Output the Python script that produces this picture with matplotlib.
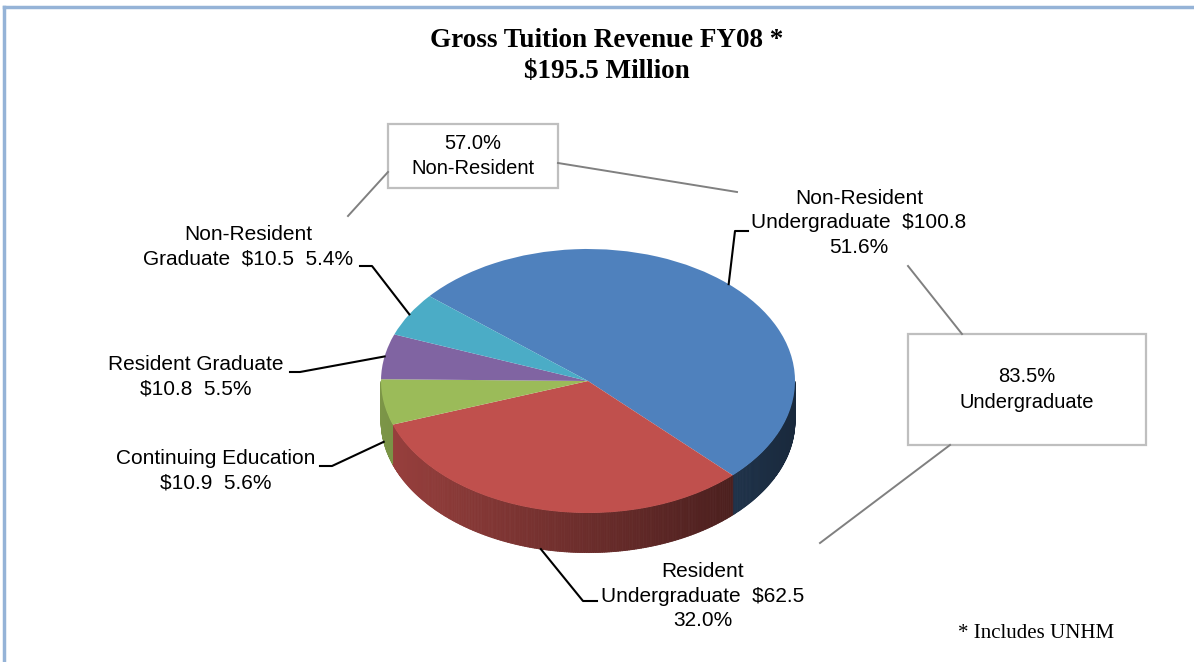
import matplotlib.colors as mcolors
import matplotlib.pyplot as plt
import numpy as np
from matplotlib.collections import PolyCollection
from matplotlib.lines import Line2D
from matplotlib.patches import Rectangle

# FY08 gross tuition revenue, $ millions
categories = [
    "Non-Resident Undergraduate",
    "Resident Undergraduate",
    "Continuing Education",
    "Resident Graduate",
    "Non-Resident Graduate",
]
amounts = [100.8, 62.5, 10.9, 10.8, 10.5]
shares = [51.6, 32.0, 5.6, 5.5, 5.4]
total = 195.5

# summary call-outs
group_names = ["Non-Resident", "Undergraduate"]
group_shares = [57.0, 83.5]

colors = ["#4F81BD", "#C0504D", "#9BBB59", "#8064A2", "#4BACC6"]

# how each slice label is laid out
label_fmt = [
    "Non-Resident\nUndergraduate  ${amt}\n{pct}%",
    "Resident\nUndergraduate  ${amt}\n{pct}%",
    "Continuing Education\n${amt}  {pct}%",
    "Resident Graduate\n${amt}  {pct}%",
    "Non-Resident\nGraduate  ${amt}  {pct}%",
]

W, H = 1194, 662
CX, CY = 588, 381  # pie centre, pixels from top-left
RX, RY = 207, 132  # radii of the top face in pixels
DEPTH = 0.30  # height of the pie side (data units)

# label placement in pixels: (elbow, line end, text centre)
label_pos = [
    ((735, 231), (748, 231), (859, 223)),
    ((583, 601), (597, 601), (703, 596)),
    ((332, 466), (320, 466), (216, 471)),
    ((300, 372), (290, 372), (196, 377)),
    ((372, 266), (360, 266), (248, 247)),
]

SANS = "Liberation Sans"
SERIF = "Liberation Serif"


def px(x, y):
    """pixel position (from top-left) -> data coords of the pie axes"""
    return (x - CX) / RX, (CY - y) / RY


fig = plt.figure(figsize=(W / 100, H / 100), dpi=100)
ax = fig.add_axes([0, 0, 1, 1])

wedges, _ = ax.pie(
    amounts,
    colors=colors,
    startangle=140,
    counterclock=False,
    wedgeprops=dict(linewidth=0, zorder=3),
)

ax.set_xlim(px(0, 0)[0], px(W, 0)[0])
ax.set_ylim(px(0, H)[1], px(0, 0)[1])
ax.set_aspect("auto")
ax.axis("off")

# shaded side of the pie (front half only)
polys, fcols = [], []
for w, c in zip(wedges, colors):
    base = np.array(mcolors.to_rgb(c))
    n = int(abs(w.theta2 - w.theta1) / 0.5) + 2
    t = np.radians(np.linspace(w.theta1, w.theta2, n))
    for t0, t1 in zip(t[:-1], t[1:]):
        tm = 0.5 * (t0 + t1)
        if np.sin(tm) >= 0:
            continue
        x0, y0, x1, y1 = np.cos(t0), np.sin(t0), np.cos(t1), np.sin(t1)
        polys.append([(x0, y0), (x1, y1), (x1, y1 - DEPTH), (x0, y0 - DEPTH)])
        fcols.append(np.clip(base * (0.56 - 0.24 * np.cos(tm)), 0, 1))
ax.add_collection(
    PolyCollection(polys, facecolors=fcols, edgecolors=fcols, linewidths=0.6, zorder=2)
)

# slice labels with leader lines
for w, fmt, amt, pct, (elbow, end, tpos) in zip(
    wedges, label_fmt, amounts, shares, label_pos
):
    mid = np.radians(0.5 * (w.theta1 + w.theta2))
    sx, sy = np.cos(mid), np.sin(mid)
    if sy < 0:
        sy -= DEPTH
    ex, ey = px(*elbow)
    lx, ly = px(*end)
    ax.plot([sx, ex, lx], [sy, ey, ly], color="black", lw=1.5, zorder=5)
    tx, ty = px(*tpos)
    ax.text(
        tx, ty, fmt.format(amt=f"{amt:.1f}", pct=f"{pct:.1f}"),
        ha="center", va="center", multialignment="center",
        fontsize=15, family=SANS, linespacing=1.35, zorder=6,
    )

# group call-out boxes
boxes = [
    ((388, 124, 558, 188), [((388, 172), (348, 216)), ((558, 163), (737, 192))]),
    ((908, 334, 1146, 445), [((908, 266), (962, 334)), ((950, 445), (820, 543))]),
]
for name, val, ((x0, y0, x1, y1), lines) in zip(group_names, group_shares, boxes):
    bx0, by1 = px(x0, y0)
    bx1, by0 = px(x1, y1)
    ax.add_patch(
        Rectangle((bx0, by0), bx1 - bx0, by1 - by0, facecolor="white",
                  edgecolor="#BFBFBF", lw=1.6, zorder=4)
    )
    ax.text(
        (bx0 + bx1) / 2, (by0 + by1) / 2, f"{val:.1f}%\n{name}",
        ha="center", va="center", multialignment="center",
        fontsize=14.5, family=SANS, linespacing=1.45, zorder=6,
    )
    for p, q in lines:
        (ax_, ay_), (bx_, by_) = px(*p), px(*q)
        ax.plot([ax_, bx_], [ay_, by_], color="#808080", lw=1.4, zorder=4)

# title and footnote
tx, ty = px(607, 56)
ax.text(tx, ty, f"Gross Tuition Revenue FY08 *\n${total:.1f} Million",
        ha="center", va="center", fontsize=19.5, fontweight="bold", family=SERIF,
        linespacing=1.3)
fx, fy = px(1036, 634)
ax.text(fx, fy, "* Includes UNHM", ha="center", va="center", fontsize=15,
        family=SERIF)

# chart frame (only the top and left edges fall inside the image)
frame = "#95B3D7"
fig.add_artist(Line2D([4 / W, 1], [1 - 7 / H, 1 - 7 / H], color=frame, lw=2.5))
fig.add_artist(Line2D([4 / W, 4 / W], [0, 1 - 7 / H], color=frame, lw=2.5))

fig.savefig("out.png", dpi=100)
